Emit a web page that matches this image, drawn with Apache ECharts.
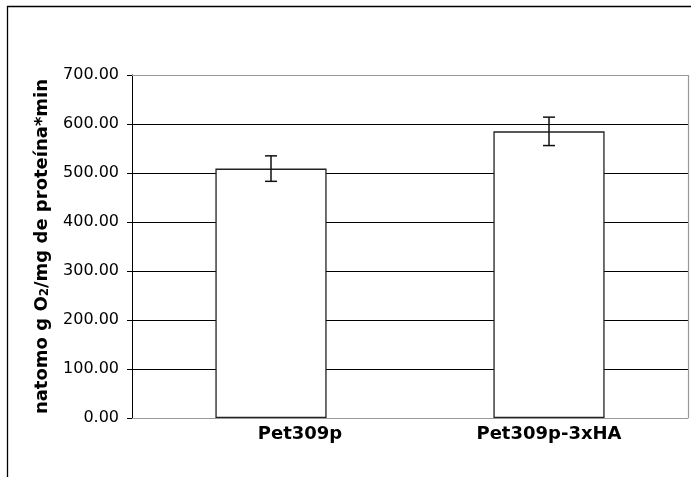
<!DOCTYPE html>
<html>
<head>
<meta charset="utf-8">
<script src="https://cdn.jsdelivr.net/npm/echarts@6/dist/echarts.min.js"></script>
<style>html,body{margin:0;padding:0;background:#fff;}#c{width:691px;height:477px;}</style>
</head>
<body>
<div id="c"></div>
<script>
const categories = ['Pet309p', 'Pet309p-3xHA'];
const means = [509, 585];
const errors = [26, 29];
const yTicks = [0, 100, 200, 300, 400, 500, 600, 700];

const FONT = '"DejaVu Sans", Verdana, sans-serif';
const chart = echarts.init(document.getElementById('c'), null, {renderer: 'canvas'});

const errData = categories.map((c, i) => [i, means[i] - errors[i], means[i] + errors[i]]);

chart.setOption({
  backgroundColor: '#fff',
  animation: false,
  grid: {left: 132, right: 3, top: 75, bottom: 59, show: false},
  graphic: [
    {type: 'rect', shape: {x: 7.5, y: 6.5, width: 800, height: 600}, style: {fill: 'none', stroke: '#000', lineWidth: 1.3}, z: 0},
    {type: 'polyline', shape: {points: [[132, 75.5], [688.5, 75.5], [688.5, 418]]}, style: {fill: 'none', stroke: '#999', lineWidth: 1.2}, z: 1}
  ],
  xAxis: {
    type: 'category',
    data: categories,
    axisLine: {lineStyle: {color: '#999', width: 1.2}},
    axisTick: {show: false},
    axisLabel: {
      margin: 7,
      fontFamily: FONT, fontWeight: 'bold', fontSize: 18, color: '#000',
      formatter: function (v, i) { return i === 0 ? '{s|' + v + '}' : v; },
      rich: {s: {fontFamily: FONT, fontWeight: 'bold', fontSize: 18, color: '#000', padding: [0, 0, 0, 58]}}
    }
  },
  yAxis: {
    type: 'value',
    min: 0, max: 700, interval: 100,
    name: 'natomo g O{sub|2}/mg de proteína*min',
    nameLocation: 'middle',
    nameRotate: 90,
    nameGap: 81,
    nameTextStyle: {
      fontFamily: FONT, fontWeight: 'bold', fontSize: 18, color: '#000',
      rich: {sub: {fontFamily: FONT, fontWeight: 'bold', fontSize: 12, color: '#000', padding: [5, 0, 0, 0]}}
    },
    axisLine: {show: true, lineStyle: {color: '#000', width: 1}},
    axisTick: {show: true, length: 5, lineStyle: {color: '#000'}},
    axisLabel: {
      margin: 13, fontFamily: FONT, fontSize: 16, color: '#000',
      formatter: function (v) { return yTicks.indexOf(v) >= 0 ? v.toFixed(2) : ''; }
    },
    splitLine: {show: true, lineStyle: {color: '#000', width: 1}}
  },
  series: [
    {
      type: 'bar',
      data: means,
      barWidth: '40%',
      itemStyle: {color: '#fff', borderColor: '#222', borderWidth: 1.3},
      z: 2
    },
    {
      type: 'custom',
      data: errData,
      z: 3,
      renderItem: function (params, api) {
        const x = api.value(0);
        const lo = api.coord([x, api.value(1)]);
        const hi = api.coord([x, api.value(2)]);
        const w = 6;
        const st = {stroke: '#111', lineWidth: 1.5};
        return {type: 'group', children: [
          {type: 'line', shape: {x1: hi[0], y1: hi[1], x2: lo[0], y2: lo[1]}, style: st},
          {type: 'line', shape: {x1: hi[0] - w, y1: hi[1], x2: hi[0] + w, y2: hi[1]}, style: st},
          {type: 'line', shape: {x1: lo[0] - w, y1: lo[1], x2: lo[0] + w, y2: lo[1]}, style: st}
        ]};
      }
    }
  ]
});
</script>
</body>
</html>
